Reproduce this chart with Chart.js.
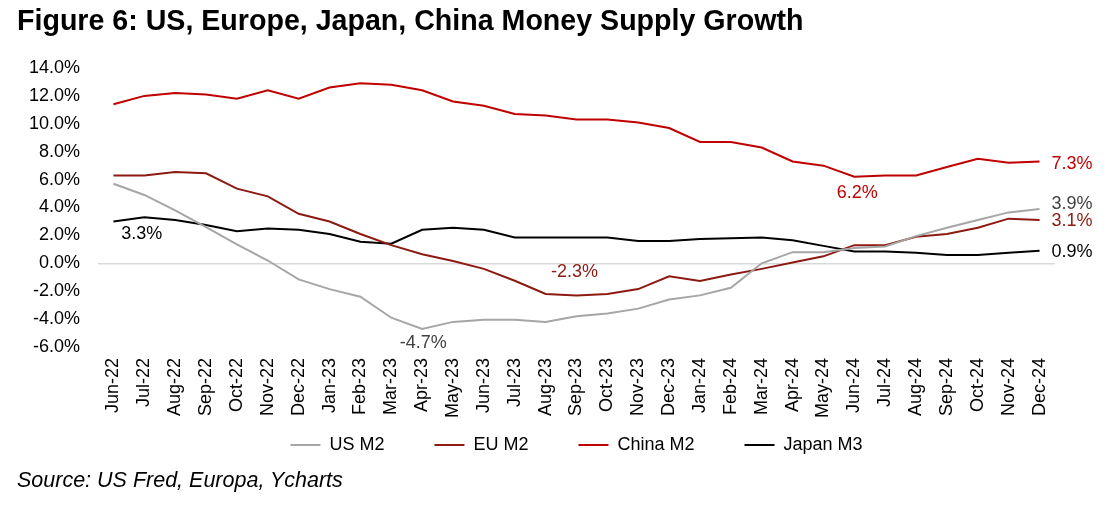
<!DOCTYPE html>
<html>
<head>
<meta charset="utf-8">
<script src="https://cdn.jsdelivr.net/npm/chart.js@4/dist/chart.umd.min.js"></script>
<style>
html,body{margin:0;padding:0;background:#fff;width:1115px;height:507px;overflow:hidden;}
#wrap{position:relative;width:1115px;height:507px;}
canvas{position:absolute;left:0;top:0;}
#title{position:absolute;left:17px;top:6px;font:bold 28.6px/28px 'Liberation Sans',Arial,sans-serif;color:#000;white-space:nowrap;}
#source{position:absolute;left:17px;top:470px;font:italic 21.5px/21px 'Liberation Sans',Arial,sans-serif;color:#000;white-space:nowrap;}
</style>
</head>
<body>
<div id="wrap">
<canvas id="c" width="1115" height="507"></canvas>
<div id="title">Figure 6: US, Europe, Japan, China Money Supply Growth</div>
<div id="source">Source: US Fred, Europa, Ycharts</div>
</div>
<script>
const months = ['Jun-22','Jul-22','Aug-22','Sep-22','Oct-22','Nov-22','Dec-22',
  'Jan-23','Feb-23','Mar-23','Apr-23','May-23','Jun-23','Jul-23','Aug-23','Sep-23','Oct-23','Nov-23','Dec-23',
  'Jan-24','Feb-24','Mar-24','Apr-24','May-24','Jun-24','Jul-24','Aug-24','Sep-24','Oct-24','Nov-24','Dec-24'];

const usM2 = [5.7,4.9,3.8,2.6,1.35,0.2,-1.15,
  -1.85,-2.4,-3.9,-4.7,-4.2,-4.05,-4.05,-4.2,-3.8,-3.6,-3.25,-2.6,
  -2.3,-1.75,0.0,0.8,0.8,1.1,1.2,1.95,2.55,3.1,3.65,3.9];

const euM2 = [6.3,6.3,6.55,6.45,5.35,4.8,3.55,
  3.0,2.1,1.3,0.65,0.17,-0.4,-1.25,-2.2,-2.3,-2.2,-1.85,-0.93,
  -1.27,-0.8,-0.4,0.05,0.5,1.3,1.3,1.9,2.1,2.55,3.2,3.1];

const chinaM2 = [11.4,12.0,12.2,12.1,11.8,12.4,11.8,
  12.6,12.9,12.8,12.4,11.6,11.3,10.7,10.6,10.3,10.3,10.1,9.7,
  8.7,8.7,8.3,7.3,7.0,6.2,6.3,6.3,6.9,7.5,7.2,7.3];

const japanM3 = [3.0,3.3,3.1,2.75,2.3,2.5,2.4,
  2.1,1.55,1.4,2.4,2.55,2.4,1.85,1.85,1.85,1.85,1.6,1.6,
  1.75,1.8,1.85,1.65,1.25,0.85,0.85,0.75,0.6,0.6,0.75,0.9];

const yMin = -6, yMax = 14, yStep = 2;

const FAMILY = "'Liberation Sans', Arial, sans-serif";
const COL = {us:'#A6A6A6', eu:'#8C1A11', china:'#C00000', japan:'#000000'};

const pointLabels = {
  id: 'pointLabels',
  afterLayout(chart, args, opts) {
    // pull the legend row up closer to the axis labels (legend padding also sets item spacing)
    if (chart.legend && opts.legendShift) {
      chart.legend.top += opts.legendShift;
      chart.legend.bottom += opts.legendShift;
    }
  },
  afterDatasetsDraw(chart, args, opts) {
    const ctx = chart.ctx;
    (opts.items || []).forEach(it => {
      const meta = chart.getDatasetMeta(it.ds);
      const el = meta.data[it.index];
      const v = chart.data.datasets[it.ds].data[it.index];
      ctx.save();
      ctx.font = '18px ' + FAMILY;
      ctx.fillStyle = it.color;
      ctx.textAlign = it.align;
      ctx.textBaseline = 'middle';
      ctx.fillText(v.toFixed(1) + '%', el.x + it.dx, el.y + it.dy);
      ctx.restore();
    });
  }
};

const last = months.length - 1;

new Chart(document.getElementById('c'), {
  type: 'line',
  data: {
    labels: months,
    datasets: [
      {label:'US M2', data:usM2, borderColor:COL.us, backgroundColor:COL.us, borderWidth:2, pointRadius:0, tension:0},
      {label:'EU M2', data:euM2, borderColor:COL.eu, backgroundColor:COL.eu, borderWidth:2, pointRadius:0, tension:0},
      {label:'China M2', data:chinaM2, borderColor:COL.china, backgroundColor:COL.china, borderWidth:2, pointRadius:0, tension:0},
      {label:'Japan M3', data:japanM3, borderColor:COL.japan, backgroundColor:COL.japan, borderWidth:2, pointRadius:0, tension:0}
    ]
  },
  options: {
    responsive: false,
    animation: false,
    devicePixelRatio: 1,
    layout: {padding: {left: 0, right: 60, top: 68, bottom: 7}},
    scales: {
      x: {
        offset: true,
        grid: {display: false, drawTicks: false},
        border: {display: false},
        ticks: {autoSkip: false, minRotation: 90, maxRotation: 90, padding: 11, color: '#000', font: {size: 18, family: FAMILY}},
        afterFit(s) { s.height = 75; }
      },
      y: {
        min: yMin, max: yMax,
        ticks: {stepSize: yStep, padding: 18, color: '#000', font: {size: 18, family: FAMILY},
          callback: v => Number(v).toFixed(1) + '%'},
        grid: {drawTicks: false, lineWidth: 1.5,
          color: c => (c.tick && c.tick.value === 0) ? '#D9D9D9' : 'rgba(0,0,0,0)'},
        border: {display: false},
        afterFit(s) { s.width = 98; }
      }
    },
    plugins: {
      legend: {
        position: 'bottom',
        fullSize: false,
        labels: {usePointStyle: true, pointStyle: 'line', pointStyleWidth: 30, padding: 50,
          color: '#000', font: {size: 18, family: FAMILY}}
      },
      tooltip: {enabled: false},
      pointLabels: {
        legendShift: -36,
        items: [
          {ds: 3, index: 1, dx: -2.5, dy: 17, align: 'center', color: '#000000'},
          {ds: 0, index: 10, dx: 1, dy: 14, align: 'center', color: '#404040'},
          {ds: 1, index: 15, dx: -2, dy: -23, align: 'center', color: COL.eu},
          {ds: 2, index: 24, dx: 3, dy: 16, align: 'center', color: COL.china},
          {ds: 2, index: last, dx: 12, dy: 2.5, align: 'left', color: COL.china},
          {ds: 0, index: last, dx: 12, dy: -5, align: 'left', color: '#404040'},
          {ds: 1, index: last, dx: 12, dy: 1, align: 'left', color: COL.eu},
          {ds: 3, index: last, dx: 12, dy: 1, align: 'left', color: '#000000'}
        ]
      }
    }
  },
  plugins: [pointLabels]
});
</script>
</body>
</html>
